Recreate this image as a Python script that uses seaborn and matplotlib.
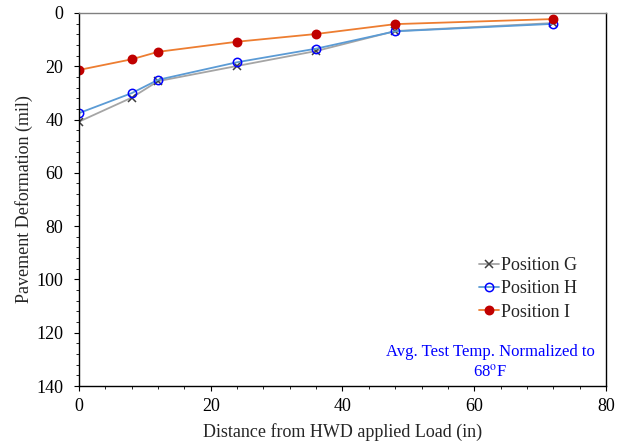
import matplotlib
matplotlib.use("Agg")
import matplotlib.pyplot as plt
import seaborn as sns
import pandas as pd
from matplotlib.ticker import MultipleLocator

# distância do ponto de carga (in)
distance = [0, 8, 12, 24, 36, 48, 72]
pos_g = [40.8, 31.8, 25.6, 19.9, 14.3, 6.8, 3.8]
pos_h = [37.6, 30.1, 25.1, 18.5, 13.4, 6.9, 4.1]
pos_i = [21.4, 17.4, 14.6, 10.8, 7.9, 4.2, 2.3]

sns.set_style("ticks")
plt.rcParams['font.family'] = ['Liberation Serif', 'DejaVu Serif']
plt.rcParams['mathtext.fontset'] = 'stix'

fig = plt.figure(figsize=(6.19, 4.46), dpi=100)
ax = fig.add_axes([0.1276, 0.1345, 0.8514, 0.8365])

series = [
    ("Position G", pos_g, "#a5a5a5", "x", "#404040", "#404040"),
    ("Position H", pos_h, "#5b9bd5", "o", "#0000ff", "none"),
    ("Position I", pos_i, "#ed7d31", "o", "#c00000", "#c00000"),
]
for name, vals, lc, mk, mec, mfc in series:
    df = pd.DataFrame({"x": distance, "y": vals})
    sns.lineplot(data=df, x="x", y="y", ax=ax, color=lc, marker=mk, markersize=6,
                 markeredgecolor=mec, markerfacecolor=mfc, markeredgewidth=1.1,
                 linewidth=1.3, label=name)

ax.set_xlim(0, 80)
ax.set_ylim(140, 0)
ax.xaxis.set_major_locator(MultipleLocator(20))
ax.xaxis.set_minor_locator(MultipleLocator(4))
ax.yaxis.set_major_locator(MultipleLocator(20))
ax.yaxis.set_minor_locator(MultipleLocator(4))
ax.tick_params(which='both', direction='out', labelsize=13, colors='black')
ax.tick_params(which='major', length=3.5)
ax.tick_params(which='minor', length=2.5)
ax.tick_params(axis='y', which='major', pad=8)
ax.tick_params(axis='x', which='major', pad=5)
for s in ax.spines.values():
    s.set_color('black')
    s.set_linewidth(1.0)
ax.spines['top'].set_color('#808080')

ax.set_xlabel("Distance from HWD applied Load (in)", fontsize=13, labelpad=6)
ax.set_ylabel("Pavement Deformation (mil)", fontsize=13, labelpad=2)

ax.legend(loc='upper left', bbox_to_anchor=(0.745, 0.365), frameon=False, fontsize=13,
          handlelength=1.1, handletextpad=0.1, labelspacing=0.35, borderaxespad=0)

ax.text(0.78, 0.064, "Avg. Test Temp. Normalized to\n68$^{\\rm o}$F", transform=ax.transAxes,
        ha='center', va='center', color='#0000ff', fontsize=12, linespacing=1.25)

fig.savefig("out.png", dpi=100)
